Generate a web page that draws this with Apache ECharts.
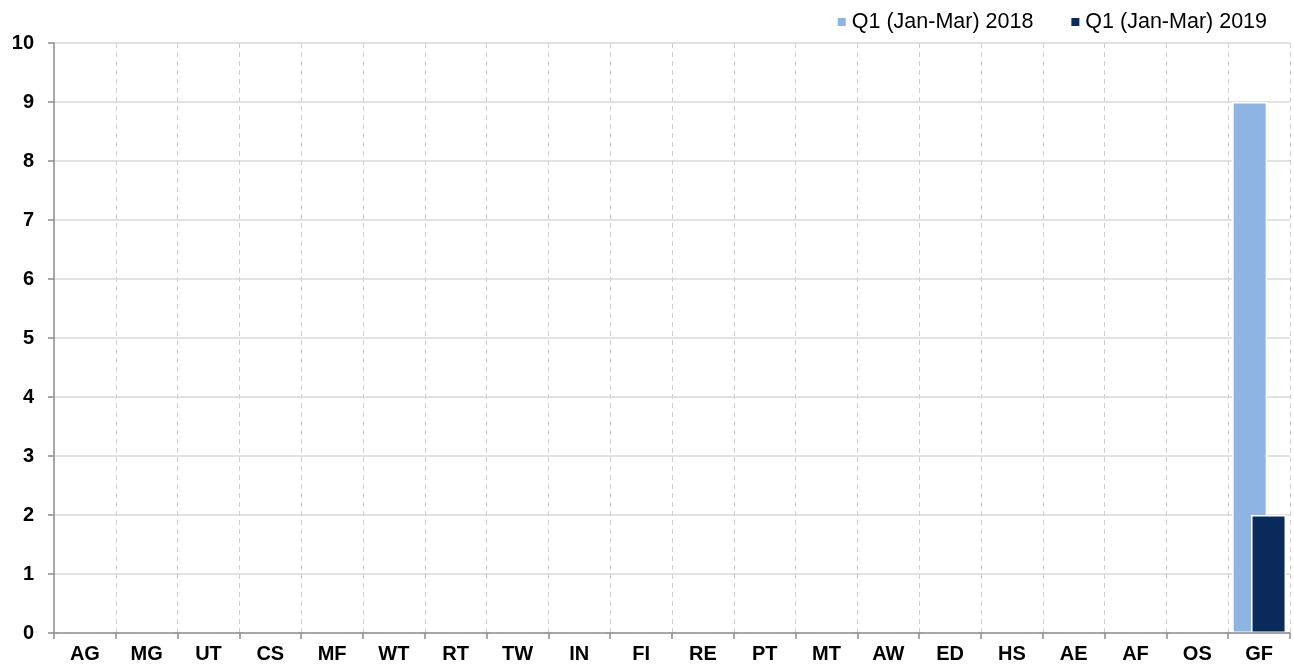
<!DOCTYPE html>
<html>
<head>
<meta charset="utf-8">
<script src="https://cdn.jsdelivr.net/npm/echarts@6/dist/echarts.min.js"></script>
<style>
  html, body { margin: 0; padding: 0; background: #ffffff; }
  #main { width: 1294px; height: 669px; }
</style>
</head>
<body>
<div id="main"></div>
<script>
// categories along the x axis
var categories = ['AG','MG','UT','CS','MF','WT','RT','TW','IN','FI','RE','PT','MT','AW','ED','HS','AE','AF','OS','GF'];
// series values
var q1_2018 = [0,0,0,0,0,0,0,0,0,0,0,0,0,0,0,0,0,0,0,9];
var q1_2019 = [0,0,0,0,0,0,0,0,0,0,0,0,0,0,0,0,0,0,0,2];
var seriesNames = ['Q1 (Jan-Mar) 2018', 'Q1 (Jan-Mar) 2019'];

var myChart = echarts.init(document.getElementById('main'));
myChart.setOption({
    backgroundColor: '#ffffff',
    animation: false,
    legend: {
        right: 22,
        top: 6,
        itemWidth: 10,
        itemHeight: 10,
        itemGap: 36,
        icon: 'rect',
        textStyle: { fontFamily: 'Liberation Sans', fontSize: 21.5, color: '#000000' },
        data: seriesNames
    },
    grid: { left: 54, right: 4, top: 43, bottom: 36 },
    xAxis: {
        type: 'category',
        data: categories,
        z: 5,
        axisLine: { lineStyle: { color: '#8c8c8c', width: 1.5 } },
        axisTick: { show: true, length: 6, lineStyle: { color: '#8c8c8c', width: 1.5 } },
        axisLabel: { interval: 0, margin: 11, fontFamily: 'Liberation Sans', fontWeight: 'bold', fontSize: 20, color: '#000000' },
        splitLine: {
            show: true,
            // skip the first boundary so the y axis line stays solid
            interval: function (index) { return index > 0; },
            lineStyle: { color: '#d0d0d0', type: [5, 4], width: 1 }
        }
    },
    yAxis: {
        type: 'value',
        min: 0,
        max: 10,
        interval: 1,
        axisLine: { show: true, lineStyle: { color: '#8c8c8c', width: 1.5 } },
        axisTick: { show: true, length: 6, lineStyle: { color: '#8c8c8c', width: 1.5 } },
        axisLabel: { margin: 20, fontFamily: 'Liberation Sans', fontWeight: 'bold', fontSize: 20, color: '#000000' },
        splitLine: { lineStyle: { color: '#d9d9d9', width: 1.5 } }
    },
    series: [{
        name: seriesNames[0],
        type: 'bar',
        barWidth: 35,
        barGap: '-46%',
        itemStyle: { color: '#8db4e2', borderColor: '#ffffff', borderWidth: 1.5 },
        data: q1_2018
    }, {
        name: seriesNames[1],
        type: 'bar',
        barWidth: 35,
        itemStyle: { color: '#0b2a5c', borderColor: '#ffffff', borderWidth: 1.5 },
        data: q1_2019
    }]
});
</script>
</body>
</html>
